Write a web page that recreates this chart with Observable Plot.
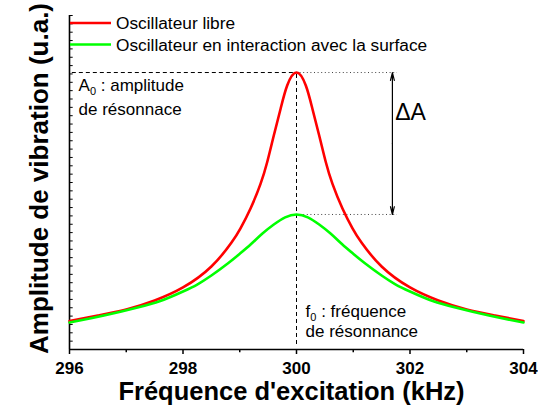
<!DOCTYPE html>
<html>
<head>
<meta charset="utf-8">
<script src="https://cdn.jsdelivr.net/npm/d3@7"></script>
<script src="https://cdn.jsdelivr.net/npm/@observablehq/plot@0.6"></script>
<style>
  html, body { margin: 0; padding: 0; background: #ffffff; }
  svg { font-family: Arial, "Liberation Sans", sans-serif; }
</style>
</head>
<body>
<div id="chart"></div>
<script>
// ---- Data ----
const seriesNames = ["Oscillateur libre", "Oscillateur en interaction avec la surface"];
const seriesColors = ["#ff0000", "#00ff00"];

// Free oscillator (red)
const redFreq = [296, 296.5, 297, 297.5, 298, 298.5, 298.855, 299.013, 299.19, 299.366, 299.483, 299.6, 299.72, 299.836,
                 300, 300.164, 300.28, 300.4, 300.517, 300.634, 300.81, 300.987, 301.145, 301.5, 302, 302.5, 303, 303.5, 304];
const redAmp  = [3.41, 4.07, 4.79, 5.87, 7.43, 9.94, 12.81, 14.51, 16.89, 19.84, 22.43, 25.63, 28.83, 31.62,
                 33.17, 31.62, 28.83, 25.63, 22.43, 19.84, 16.89, 14.51, 12.81, 9.94, 7.43, 5.87, 4.79, 4.07, 3.41];

// Oscillator interacting with the surface (green)
const greenFreq = [296, 296.4, 296.8, 297.2, 297.6, 298, 298.25, 298.5, 298.8, 299, 299.2, 299.4, 299.6, 299.8,
                   300, 300.2, 300.4, 300.6, 300.8, 301, 301.2, 301.5, 301.75, 302, 302.4, 302.8, 303.2, 303.6, 304];
const greenAmp  = [3.23, 3.77, 4.37, 5.03, 5.81, 6.95, 7.78, 8.86, 10.36, 11.46, 12.63, 13.89, 14.97, 15.83,
                   16.17, 15.83, 14.97, 13.89, 12.63, 11.46, 10.36, 8.86, 7.78, 6.95, 5.81, 5.03, 4.37, 3.77, 3.23];

const xMajorTicks = [296, 298, 300, 302, 304];
const xMinorTicks = [297, 299, 301, 303];
const yTicks = [0,1,2,3,4,5,6,7,8,9,10,11,12,13,14,15,16,17,18,19,20,21,22,23,24,25,26,27,28,29,30,31,32,33,34,35,36,37,38,39,40];

const f0 = 300;          // resonance frequency
const A0 = 33.17;        // resonance amplitude (free)
const Asurf = 16.17;     // resonance amplitude (with surface)

const xLabel = "Fréquence d'excitation (kHz)";
const yLabel = "Amplitude de vibration (u.a.)";

// ---- Build tables ----
const red = redFreq.map((f, i) => ({f, a: redAmp[i]}));
const green = greenFreq.map((f, i) => ({f, a: greenAmp[i]}));

const FONT = "Arial, 'Liberation Sans', sans-serif";
const arrowX = 301.69;
const dotEnd = 301.78;
const midA = (A0 + Asurf) / 2;

const plot = Plot.plot({
  width: 538,
  height: 410,
  marginLeft: 69,
  marginRight: 15,
  marginTop: 15,
  marginBottom: 61,
  x: {domain: [296, 304]},
  y: {domain: [0, 40], axis: null},
  style: {fontFamily: FONT, color: "black", background: "white", overflow: "visible"},
  marks: [
    // axes
    Plot.axisX({ticks: xMajorTicks, tickSize: 5, tickPadding: 7, fontSize: 17, fontWeight: "bold",
                tickFormat: d => String(d), label: null, strokeWidth: 1.5}),
    Plot.ruleX(xMinorTicks, {x: d => d, y1: 0, y2: -0.38, stroke: "black", strokeWidth: 1.5}),
    Plot.ruleY(yTicks, {y: d => d, x1: 296, x2: 296.065, stroke: "black", strokeWidth: 1}),
    Plot.ruleX([296], {y1: 0, y2: 40, stroke: "black", strokeWidth: 1.6}),
    Plot.ruleY([0], {x1: 296, x2: 304, stroke: "black", strokeWidth: 1.6}),

    // guide lines
    Plot.ruleY([A0], {x1: 296.05, x2: f0, stroke: "black", strokeWidth: 1, strokeDasharray: "4,3"}),
    Plot.ruleX([f0], {y1: 0.6, y2: A0, stroke: "black", strokeWidth: 1, strokeDasharray: "4,3"}),
    Plot.ruleY([A0, Asurf], {x1: f0, x2: dotEnd, stroke: "#444", strokeWidth: 1, strokeDasharray: "1,2.6"}),

    // double arrow ΔA
    Plot.arrow([{y1: midA, y2: A0}, {y1: midA, y2: Asurf}],
               {x1: arrowX, x2: arrowX, y1: "y1", y2: "y2", stroke: "black", strokeWidth: 1.2,
                headLength: 10, headAngle: 28}),

    // curves
    Plot.line(red, {x: "f", y: "a", stroke: seriesColors[0], strokeWidth: 2.6, curve: "natural"}),
    Plot.line(green, {x: "f", y: "a", stroke: seriesColors[1], strokeWidth: 2.6, curve: "natural"}),

    // annotations
    Plot.text(["A0 : amplitude"], {x: 296.16, y: 30.9, text: d => d, textAnchor: "start", lineAnchor: "bottom", fontSize: 17, fill: "black"}),
    Plot.text(["de résonnace"], {x: 296.16, y: 28.14, text: d => d, textAnchor: "start", lineAnchor: "bottom", fontSize: 17, fill: "black"}),
    Plot.text(["f0 : fréquence"], {x: 300.16, y: 3.9, text: d => d, textAnchor: "start", lineAnchor: "bottom", fontSize: 17, fill: "black"}),
    Plot.text(["de résonnance"], {x: 300.16, y: 1.5, text: d => d, textAnchor: "start", lineAnchor: "bottom", fontSize: 17, fill: "black"}),
    Plot.text(["ΔA"], {x: 301.74, y: 27.5, text: d => d, textAnchor: "start", lineAnchor: "bottom", fontSize: 23, fill: "black"})
  ]
});

const svg = d3.select(plot);

// bold tick labels
svg.selectAll('g[aria-label="x-axis tick label"]').attr("font-weight", "bold").attr("font-size", 17);
svg.selectAll('g[aria-label="x-axis tick label"] text').attr("font-weight", "bold").attr("font-size", 17);

// subscripts
svg.selectAll("text").each(function () {
  const t = this.textContent;
  const m = t.match(/^([Af])0( : .*)$/);
  if (m) {
    const s = d3.select(this);
    s.text(null);
    s.append("tspan").text(m[1]);
    s.append("tspan").attr("font-size", "11px").attr("dy", "4").text("0");
    s.append("tspan").attr("dy", "-4").text(m[2]);
  }
});

// legend
const legendRows = [{y: 23, ty: 29}, {y: 44.5, ty: 50.5}];
seriesNames.forEach((name, i) => {
  svg.append("line").attr("x1", 70).attr("x2", 111).attr("y1", legendRows[i].y).attr("y2", legendRows[i].y)
     .attr("stroke", seriesColors[i]).attr("stroke-width", 2.6);
  svg.append("text").attr("x", 116).attr("y", legendRows[i].ty).attr("font-size", 17.3)
     .attr("text-anchor", "start").attr("font-family", FONT).attr("fill", "black").text(name);
});

// axis titles
svg.append("text").attr("x", 291.5).attr("y", 399.5).attr("text-anchor", "middle")
   .attr("font-size", 25.5).attr("font-weight", "bold").attr("font-family", FONT).attr("fill", "black").text(xLabel);
svg.append("text").attr("transform", "translate(48,178.5) rotate(-90)").attr("text-anchor", "middle")
   .attr("font-size", 26).attr("font-weight", "bold").attr("font-family", FONT).attr("fill", "black").text(yLabel);

document.getElementById("chart").appendChild(plot);
</script>
</body>
</html>
